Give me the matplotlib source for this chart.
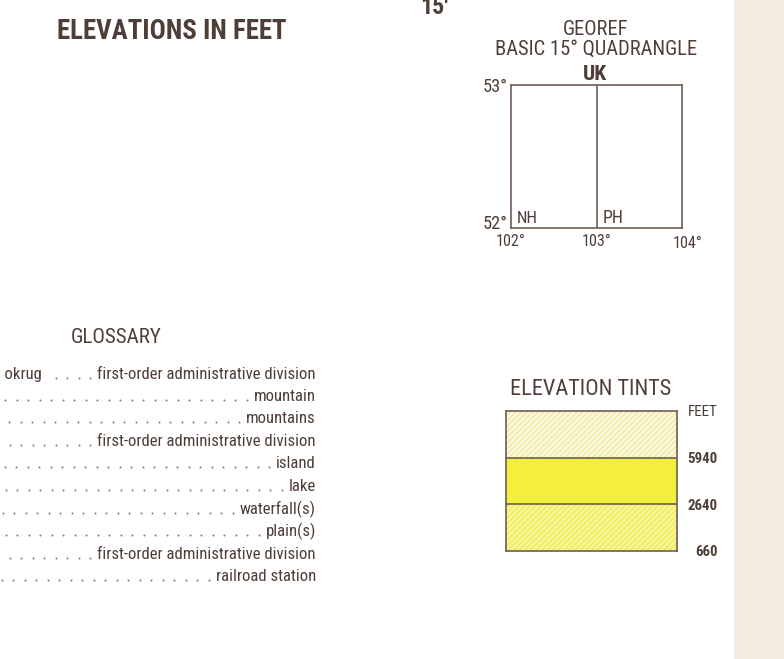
import matplotlib
matplotlib.use("Agg")
import matplotlib.pyplot as plt
from matplotlib.patches import Rectangle

plt.rcParams['font.family'] = ['Roboto Condensed', 'Liberation Sans Narrow', 'Roboto', 'DejaVu Sans']
plt.rcParams['hatch.linewidth'] = 1.1

W, H = 784, 659

# glossary (left terms mostly fall off the page edge)
glossary_terms = ["avtonomnyy okrug", "gora", "gory", "oblast'", "ostrov",
                  "ozero", "padun(y)", "ravnina", "respublika", "stantsiya"]
glossary_meanings = ["first-order administrative division", "mountain", "mountains",
                     "first-order administrative division", "island", "lake",
                     "waterfall(s)", "plain(s)", "first-order administrative division",
                     "railroad station"]

# georef quadrangle
quad_lons = [102, 103, 104]
quad_lats = [52, 53]
quad_cells = ["NH", "PH"]
quad_name = "UK"

# elevation tints, bottom to top
tint_labels = ["660", "2640", "5940", "FEET"]

# styles
INK = "#4d3f37"
FRAME = "#6e5e52"
DOT = "#8c827a"
tint_face = ["#f3ef62", "#f4ef3c", "#fbf8ea"]
tint_hatch = ["#f8f6b4", None, "#f2ec98"]

fig = plt.figure(figsize=(W / 100, H / 100), dpi=100)
ax = fig.add_axes([0, 0, 1, 1])
ax.set_xlim(0, W)
ax.set_ylim(H, 0)
ax.axis("off")

fig.canvas.draw()
renderer = fig.canvas.get_renderer()


def width_px(t):
    return t.get_window_extent(renderer).width


def fit(t, target, size):
    # scale the font so the text width matches the reference
    t.set_fontsize(size)
    w = width_px(t)
    t.set_fontsize(min(size * target / w, size * 1.3))
    return t


def label(x, y, s, target, size, **kw):
    kw.setdefault("color", INK)
    kw.setdefault("va", "baseline")
    t = ax.text(x, y, s, **kw)
    return fit(t, target, size)


# paper edge on the right
ax.add_patch(Rectangle((734, 0), W - 734, H, facecolor="#f3ece1", edgecolor="none"))

# cut-off labels along the top
label(420, 14, "15'", 28, 18, fontweight="bold", ha="left")

label(172, 39, "ELEVATIONS IN FEET", 229, 19, fontweight="bold", ha="center")

# ---- GEOREF block ----
label(596, 35, "GEOREF", 65, 13, ha="center")
label(596, 55, "BASIC 15\u00b0 QUADRANGLE", 202, 13, ha="center")
label(595, 80, quad_name, 24, 13, fontweight="bold", ha="center")

qx0, qx1, qy0, qy1 = 511, 682, 85, 228
qax = fig.add_axes([qx0 / W, 1 - qy1 / H, (qx1 - qx0) / W, (qy1 - qy0) / H])
qax.set_xlim(quad_lons[0], quad_lons[-1])
qax.set_ylim(quad_lats[0], quad_lats[-1])
qax.set_facecolor("none")
qax.set_xticks([])
qax.set_yticks([])
for sp in qax.spines.values():
    sp.set_color(FRAME)
    sp.set_linewidth(1.2)
for lon in quad_lons[1:-1]:
    qax.axvline(lon, color=FRAME, lw=1.2)

for lon, cell in zip(quad_lons[:-1], quad_cells):
    a = qax.annotate(cell, (lon, quad_lats[0]), xytext=(6, 5), textcoords="offset pixels",
                     color=INK, ha="left", va="baseline")
    fit(a, 21, 11.5)
for lon in quad_lons:
    dy = -20 if lon == quad_lons[-1] else -18
    dx = 6 if lon == quad_lons[-1] else 0
    a = qax.annotate(f"{lon}\u00b0", (lon, quad_lats[0]), xytext=(dx, dy), textcoords="offset pixels",
                     color=INK, ha="center", va="baseline", annotation_clip=False)
    fit(a, 30, 11.5)
a = qax.annotate(f"{quad_lats[1]}\u00b0", (quad_lons[0], quad_lats[1]), xytext=(-3, -7),
                 textcoords="offset pixels", color=INK, ha="right", va="baseline",
                 annotation_clip=False)
fit(a, 25, 11.5)
a = qax.annotate(f"{quad_lats[0]}\u00b0", (quad_lons[0], quad_lats[0]), xytext=(-3, -1),
                 textcoords="offset pixels", color=INK, ha="right", va="baseline",
                 annotation_clip=False)
fit(a, 25, 11.5)

# ---- glossary ----
label(116, 343, "GLOSSARY", 91, 14, ha="center")

row_base = [379, 401, 423, 446, 468, 491, 514, 536, 559, 581]
term_right = [42, None, None, None, None, None, None, None, None, None]
text_right = 316
dot_step = 11.5

# one size for all rows, fitted on the longest meaning
probe = ax.text(0, 0, glossary_meanings[0])
fit(probe, 219, 11.5)
gsize = probe.get_fontsize()
probe.remove()

inv = ax.transData.inverted()
for term, meaning, yb, tr in zip(glossary_terms, glossary_meanings, row_base, term_right):
    t = ax.text(text_right, yb, meaning, fontsize=gsize, color=INK, ha="right", va="baseline")
    bb = t.get_window_extent(renderer)
    left = inv.transform((bb.x0, bb.y0))[0]
    stop = 0
    if tr is not None:
        ax.text(tr, yb, term, fontsize=gsize, color=INK, ha="right", va="baseline")
        stop = tr + 9
    xs = []
    x = left - 7
    while x > stop:
        xs.append(x)
        x -= dot_step
    ax.scatter(xs, [yb - 1] * len(xs), s=2.2, color=DOT, linewidths=0)

# ---- elevation tints ----
label(591, 395, "ELEVATION TINTS", 162, 16, ha="center")

tx0, tx1, ty0, ty1 = 506, 677, 411, 551
tax = fig.add_axes([tx0 / W, 1 - ty1 / H, (tx1 - tx0) / W, (ty1 - ty0) / H])
nb = len(tint_labels) - 1
tax.set_xlim(0, 1)
tax.set_ylim(0, nb)
for i in range(nb):
    tax.axhspan(i, i + 1, facecolor=tint_face[i], edgecolor="none", lw=0)
    if tint_hatch[i] is not None:
        tax.axhspan(i, i + 1, facecolor="none", edgecolor=tint_hatch[i], hatch="//////", lw=0)
for i in range(1, nb):
    tax.axhline(i, color=FRAME, lw=1.2)
for sp in tax.spines.values():
    sp.set_color(FRAME)
    sp.set_linewidth(1.2)
tax.set_xticks([])
tax.yaxis.tick_right()
tax.set_yticks(range(len(tint_labels)))
tax.set_yticklabels(tint_labels)
tax.tick_params(axis="y", length=0, pad=29.5, colors=INK)
for lab in tax.get_yticklabels():
    lab.set_horizontalalignment("right")
    if lab.get_text() == "FEET":
        fit(lab, 30, 11.5)
    else:
        lab.set_fontweight("bold")
        fit(lab, 7.5 * len(lab.get_text()), 11)

fig.savefig("out.png", dpi=100)
